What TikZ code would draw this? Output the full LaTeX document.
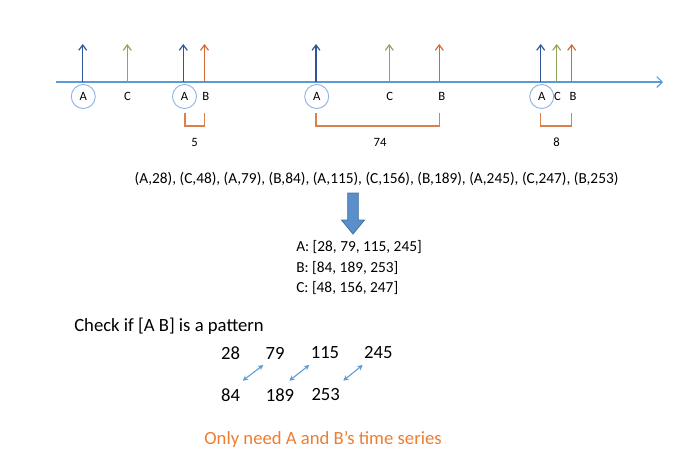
\documentclass[tikz,border=0pt]{standalone}
\usepackage{fontspec}
\setmainfont{Carlito}
\usetikzlibrary{arrows.meta}
\definecolor{ablue}{HTML}{2F5597}
\definecolor{cgreen}{HTML}{8FA65A}
\definecolor{borange}{HTML}{D2692E}
\definecolor{lineblue}{HTML}{5B9BD5}
\definecolor{circblue}{HTML}{8EB4E3}
\definecolor{txtorange}{HTML}{ED7D31}
\definecolor{fillblue}{HTML}{5B8FCB}
\definecolor{edgeblue}{HTML}{41719C}
\begin{document}
\begin{tikzpicture}[x=0.75pt,y=-0.75pt,
  ev/.style={line width=0.9pt,-{Straight Barb[length=4pt,width=6pt]}},
  lab/.style={inner sep=0pt,font=\fontsize{9.5}{11}\selectfont},
  circ/.style={draw=circblue,line width=0.7pt,circle,minimum size=18pt,inner sep=0pt,font=\fontsize{9.5}{11}\selectfont},
  brk/.style={draw=borange!85,line width=0.9pt},
  num/.style={inner sep=0pt,font=\fontsize{9.5}{11}\selectfont},
  seq/.style={inner sep=0pt,font=\fontsize{11.5}{13}\selectfont},
  big/.style={inner sep=0pt,font=\fontsize{14}{16}\selectfont},
  dbl/.style={draw=lineblue,line width=0.8pt,{Stealth[length=4pt,width=4pt]}-{Stealth[length=4pt,width=4pt]}}]
\useasboundingbox (0,0) rectangle (690,472);
% timeline
\coordinate (ts) at (56,82);
\coordinate (te) at (663,82);
\draw[lineblue,line width=0.9pt,-{Straight Barb[length=4pt,width=8pt]}] (ts) -- (te);
% events
\foreach \n/\x/\c in {a1/82.7/ablue,c1/127.3/cgreen,a2/183.3/ablue,b2/204.5/borange,a3/316/ablue,c3/389.3/cgreen,b3/439.3/borange,a4/540.7/ablue,c4/556.7/cgreen,b4/571.7/borange}{
  \coordinate (\n b) at (\x,82);
  \coordinate (\n t) at (\x,44);
  \draw[ev,\c] (\n b) -- (\n t);
}
% labels
\node[circ] (la1) at (83.3,96.5) {A};
\node[lab] (lc1) at (127.5,96.5) {C};
\node[circ] (la2) at (184.5,96.5) {A};
\node[lab] (lb2) at (205.7,96.5) {B};
\node[circ] (la3) at (316.7,96.5) {A};
\node[lab] (lc3) at (389.7,96.5) {C};
\node[lab] (lb3) at (441.7,96.5) {B};
\node[circ] (la4) at (541.7,96.5) {A};
\node[lab] (lc4) at (557.5,96.5) {C};
\node[lab] (lb4) at (573,96.5) {B};
% brackets
\coordinate (k1a) at (185,113); \coordinate (k1b) at (204.5,113);
\coordinate (k2a) at (316,113); \coordinate (k2b) at (439.3,113);
\coordinate (k3a) at (540.7,113); \coordinate (k3b) at (571.7,113);
\draw[brk] (k1a) -- ++(0,13) -| (k1b);
\draw[brk] (k2a) -- ++(0,13) -| (k2b);
\draw[brk] (k3a) -- ++(0,13) -| (k3b);
\node[num] (n5) at (194.7,142) {5};
\node[num] (n74) at (380,142) {74};
\node[num] (n8) at (556.7,142) {8};
% sequence
\node[seq] (seqtxt) at (376.5,179) {(A,28), (C,48), (A,79), (B,84), (A,115), (C,156), (B,189), (A,245), (C,247), (B,253)};
% block arrow
\draw[fill=fillblue,draw=edgeblue,line width=0.6pt] (347.7,193) -- (358.3,193) -- (358.3,220) -- (364.5,220) -- (353,234) -- (341.5,220) -- (347.7,220) -- cycle;
% lists
\node[seq,anchor=west] (lA) at (296,247) {A: [28, 79, 115, 245]};
\node[seq,anchor=west] (lB) at (296,268) {B: [84, 189, 253]};
\node[seq,anchor=west] (lC) at (296,288) {C: [48, 156, 247]};
% check
\node[big,anchor=west] (chk) at (74,326) {Check if [A B] is a pattern};
\node[big] (t28) at (230.7,353) {28};
\node[big] (t79) at (275,353) {79};
\node[big] (t115) at (325,353) {115};
\node[big] (t245) at (378.3,353) {245};
\node[big] (t84) at (230.7,395) {84};
\node[big] (t189) at (280,395) {189};
\node[big] (t253) at (325.7,395) {253};
\coordinate (d1a) at (242.7,380.7); \coordinate (d1b) at (263.3,365);
\coordinate (d2a) at (289.3,380.7); \coordinate (d2b) at (309.3,365);
\coordinate (d3a) at (343.3,380.7); \coordinate (d3b) at (362.7,365);
\draw[dbl] (d1a) -- (d1b);
\draw[dbl] (d2a) -- (d2b);
\draw[dbl] (d3a) -- (d3b);
\node[big,text=txtorange] (note) at (323,439) {Only need A and B’s time series};
\end{tikzpicture}
\end{document}
